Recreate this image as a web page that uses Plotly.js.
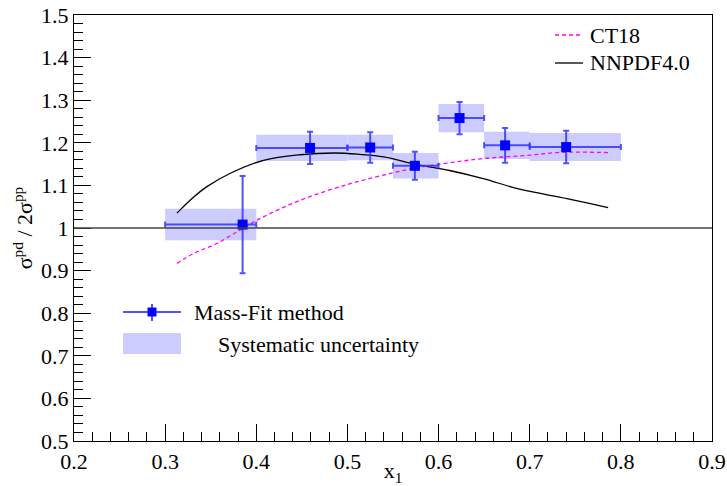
<!DOCTYPE html>
<html>
<head>
<meta charset="utf-8">
<script src="https://cdn.plot.ly/plotly-3.0.1.min.js"></script>
</head>
<body style="margin:0;background:#fff">
<div id="chart"></div>
<script>
// Mass-Fit method data points
const binLo   = [0.30, 0.40, 0.50, 0.55, 0.60, 0.65, 0.70];
const binHi   = [0.40, 0.50, 0.55, 0.60, 0.65, 0.70, 0.80];
const xVal    = [0.385, 0.459, 0.525, 0.574, 0.623, 0.673, 0.740];
const ratio   = [1.008, 1.188, 1.189, 1.146, 1.258, 1.194, 1.190];
const statErr = [0.114, 0.038, 0.036, 0.033, 0.038, 0.041, 0.038];
const sysErr  = [0.037, 0.031, 0.030, 0.030, 0.033, 0.032, 0.033];

// Theory curves
const nnpdfX = [0.313, 0.331, 0.345, 0.371, 0.408, 0.448, 0.486, 0.513, 0.540, 0.576, 0.612, 0.649, 0.689, 0.741, 0.786];
const nnpdfY = [1.035, 1.072, 1.096, 1.128, 1.159, 1.172, 1.176, 1.173, 1.167, 1.149, 1.135, 1.116, 1.091, 1.069, 1.048];
const ct18X  = [0.313, 0.331, 0.356, 0.382, 0.404, 0.448, 0.503, 0.547, 0.578, 0.612, 0.649, 0.700, 0.729, 0.755, 0.786];
const ct18Y  = [0.917, 0.940, 0.963, 0.995, 1.022, 1.065, 1.104, 1.128, 1.142, 1.153, 1.163, 1.171, 1.177, 1.178, 1.177];

const xTicks = [0.2, 0.3, 0.4, 0.5, 0.6, 0.7, 0.8, 0.9];
const yTicks = [0.5, 0.6, 0.7, 0.8, 0.9, 1, 1.1, 1.2, 1.3, 1.4, 1.5];

const legendNames = ['Mass-Fit method', 'Systematic uncertainty', 'CT18', 'NNPDF4.0'];

const binCenter = binLo.map((l, i) => (l + binHi[i]) / 2);
const binWidth  = binLo.map((l, i) => binHi[i] - l);
const sysBase   = ratio.map((r, i) => r - sysErr[i]);
const sysSpan   = sysErr.map(s => 2 * s);
const errPlus   = binHi.map((h, i) => h - xVal[i]);
const errMinus  = binLo.map((l, i) => xVal[i] - l);

const FONT = 'Liberation Serif';
const BLUE = '#0000ff';
const EBLUE = 'rgba(50,50,255,0.85)';
const BOX = 'rgb(204,204,255)';
const MAG = '#ff00ff';
const CT18DASH = '4px,3px';

const traces = [
  {
    type: 'bar', x: binCenter, y: sysSpan, base: sysBase, width: binWidth,
    marker: {color: BOX, line: {width: 0}},
    name: legendNames[1], showlegend: false, hoverinfo: 'skip'
  },
  {
    type: 'scatter', mode: 'lines', x: nnpdfX, y: nnpdfY, line: {color: '#000', width: 1.3, shape: 'spline'},
    name: legendNames[3], showlegend: false
  },
  {
    type: 'scatter', mode: 'lines', x: ct18X, y: ct18Y, line: {color: MAG, width: 1.3, dash: CT18DASH, shape: 'spline'},
    name: legendNames[2], showlegend: false
  },
  {
    type: 'scatter', mode: 'markers', x: xVal, y: ratio,
    marker: {symbol: 'square', size: 10, color: BLUE},
    error_x: {type: 'data', symmetric: false, array: errPlus, arrayminus: errMinus, color: EBLUE, thickness: 2, width: 3},
    error_y: {type: 'data', array: statErr, color: EBLUE, thickness: 2, width: 3},
    showlegend: false, name: legendNames[0]
  }
];

const axisCommon = {
  showline: true, linecolor: '#000', linewidth: 1.2, mirror: true,
  ticks: 'inside', ticklen: 17, tickwidth: 1, tickcolor: '#000',
  showgrid: false, zeroline: false, ticklabeloverflow: 'allow',
  tickfont: {family: FONT, size: 22, color: '#000'}
};

// paper-coordinate helpers for the hand-drawn legend (pixel positions in a 727x486 frame)
const PL = 74, PR = 712, PT = 15, PB = 441;
const px = x => (x - PL) / (PR - PL);
const py = y => 1 - (y - PT) / (PB - PT);

const legendShapes = [
  {type: 'line', xref: 'paper', yref: 'paper', x0: px(123), x1: px(181), y0: py(312), y1: py(312), line: {color: EBLUE, width: 2}},
  {type: 'line', xref: 'paper', yref: 'paper', x0: px(152), x1: px(152), y0: py(304), y1: py(321), line: {color: EBLUE, width: 2}},
  {type: 'rect', xref: 'paper', yref: 'paper', xsizemode: 'pixel', ysizemode: 'pixel', xanchor: px(152), yanchor: py(312),
   x0: -4.5, x1: 4.5, y0: -4.5, y1: 4.5, fillcolor: BLUE, line: {width: 0}},
  {type: 'rect', xref: 'paper', yref: 'paper', x0: px(123), x1: px(181), y0: py(354), y1: py(333), fillcolor: BOX, line: {width: 0}},
  {type: 'line', xref: 'paper', yref: 'paper', x0: px(555), x1: px(583), y0: py(35), y1: py(35), line: {color: MAG, width: 1.3, dash: CT18DASH}},
  {type: 'line', xref: 'paper', yref: 'paper', x0: px(555), x1: px(583), y0: py(63), y1: py(63), line: {color: '#000', width: 1.3}}
];

const legendTextPos = [[192, 312], [216, 344], [588, 35], [588, 63]];
const legendAnnotations = legendNames.map((t, i) => ({
  text: t, xref: 'paper', yref: 'paper', x: px(legendTextPos[i][0]), y: py(legendTextPos[i][1]),
  xanchor: 'left', yanchor: 'middle', showarrow: false, font: {family: FONT, size: 22, color: '#000'}
}));

const layout = {
  width: 727, height: 486,
  margin: {l: PL, r: 727 - PR, t: PT, b: 486 - PB},
  paper_bgcolor: '#fff', plot_bgcolor: '#fff',
  barmode: 'overlay', showlegend: false,
  xaxis: Object.assign({}, axisCommon, {
    range: [0.2, 0.9], tickvals: xTicks, ticktext: xTicks.map(v => v.toFixed(1)),
    minor: {dtick: 0.02, tick0: 0.2, ticks: 'inside', ticklen: 9, tickcolor: '#000', tickwidth: 1},
    title: {text: 'x<sub>1</sub>', font: {family: FONT, size: 22, color: '#000'}, standoff: 0}
  }),
  yaxis: Object.assign({}, axisCommon, {
    range: [0.5, 1.5], tickvals: yTicks, ticktext: yTicks.map(v => v === 1 ? '1' : v.toFixed(1)),
    minor: {dtick: 0.02, tick0: 0.5, ticks: 'inside', ticklen: 9, tickcolor: '#000', tickwidth: 1},
    title: {text: 'σ<sup>pd</sup> / 2σ<sup>pp</sup>', font: {family: FONT, size: 22, color: '#000'}, standoff: 2}
  }),
  shapes: [
    {type: 'line', xref: 'paper', x0: 0, x1: 1, yref: 'y', y0: 1, y1: 1, line: {color: '#444', width: 1.5}, layer: 'above'}
  ].concat(legendShapes),
  annotations: legendAnnotations
};

Plotly.newPlot('chart', traces, layout, {displayModeBar: false});
</script>
</body>
</html>
